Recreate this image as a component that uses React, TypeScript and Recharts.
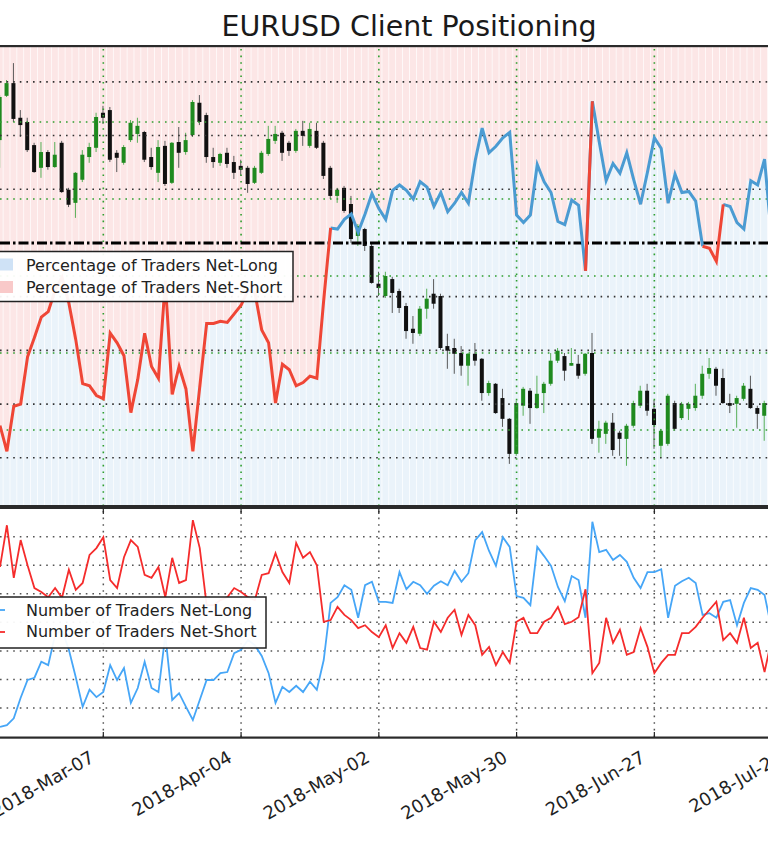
import React from 'react';
import { ComposedChart, Bar, Line, XAxis, YAxis, ReferenceLine } from 'recharts';

// trading-day index 0..112, ticks every 20 sessions
const tickIndex = [15, 35, 55, 75, 95, 115];
const tickLabels = ['2018-Mar-07', '2018-Apr-04', '2018-May-02', '2018-May-30', '2018-Jun-27', '2018-Jul-25'];

const priceTicks = [1.16, 1.18, 1.2, 1.22, 1.24];
const pctTicks = [30, 35, 40, 45, 55, 60, 65];
const countTicks = [30000, 35000, 40000, 45000, 50000, 55000, 60000];

// EURUSD daily candles
const open = [
  1.2353, 1.2468, 1.2501, 1.2411, 1.2400, 1.2340, 1.2281, 1.2322, 1.2283, 1.2346,
  1.2224, 1.2190, 1.2250, 1.2309, 1.2333, 1.2424, 1.2431, 1.2320, 1.2294, 1.2353,
  1.2369, 1.2374, 1.2309, 1.2268, 1.2338, 1.2242, 1.2348, 1.2322, 1.2366, 1.2450,
  1.2418, 1.2309, 1.2294, 1.2320, 1.2296, 1.2286, 1.2281, 1.2242, 1.2268, 1.2317,
  1.2351, 1.2372, 1.2346, 1.2325, 1.2377, 1.2338, 1.2377, 1.2346, 1.2281, 1.2208,
  1.2229, 1.2187, 1.2104, 1.2122, 1.2078, 1.1980, 1.1948, 1.1992, 1.1961, 1.1922,
  1.1863, 1.1850, 1.1915, 1.1954, 1.1948, 1.1818, 1.1813, 1.1800, 1.1767, 1.1798,
  1.1785, 1.1696, 1.1720, 1.1683, 1.1629, 1.1538, 1.1663, 1.1702, 1.1657, 1.1696,
  1.1720, 1.1780, 1.1792, 1.1767, 1.1772, 1.1746, 1.1800, 1.1580, 1.1590, 1.1619,
  1.1593, 1.1577, 1.1611, 1.1663, 1.1702, 1.1655, 1.1559, 1.1564, 1.1670, 1.1631,
  1.1655, 1.1657, 1.1689, 1.1746, 1.1759, 1.1735, 1.1670, 1.1668, 1.1681, 1.1707,
  1.1657, 1.1637,
];
const close = [
  1.2465, 1.2501, 1.2408, 1.2392, 1.2327, 1.2270, 1.2322, 1.2283, 1.2315, 1.2218,
  1.2185, 1.2268, 1.2315, 1.2335, 1.2413, 1.2411, 1.2302, 1.2307, 1.2335, 1.2398,
  1.2390, 1.2302, 1.2283, 1.2335, 1.2239, 1.2346, 1.2320, 1.2353, 1.2452, 1.2400,
  1.2309, 1.2296, 1.2317, 1.2291, 1.2268, 1.2276, 1.2239, 1.2281, 1.2320, 1.2356,
  1.2369, 1.2320, 1.2325, 1.2377, 1.2364, 1.2382, 1.2333, 1.2260, 1.2208, 1.2224,
  1.2169, 1.2096, 1.2130, 1.2078, 1.1982, 1.1969, 1.2000, 1.1956, 1.1917, 1.1857,
  1.1852, 1.1915, 1.1941, 1.1928, 1.1813, 1.1806, 1.1798, 1.1767, 1.1798, 1.1780,
  1.1696, 1.1722, 1.1644, 1.1629, 1.1538, 1.1670, 1.1707, 1.1657, 1.1694, 1.1720,
  1.1780, 1.1806, 1.1754, 1.1774, 1.1741, 1.1798, 1.1577, 1.1603, 1.1619, 1.1548,
  1.1577, 1.1611, 1.1670, 1.1702, 1.1650, 1.1613, 1.1598, 1.1689, 1.1603, 1.1668,
  1.1668, 1.1689, 1.1746, 1.1761, 1.1715, 1.1670, 1.1663, 1.1683, 1.1715, 1.1657,
  1.1642, 1.1670,
];
const high = [
  1.2470, 1.2509, 1.2553, 1.2431, 1.2411, 1.2346, 1.2348, 1.2327, 1.2348, 1.2351,
  1.2229, 1.2270, 1.2327, 1.2346, 1.2424, 1.2442, 1.2439, 1.2327, 1.2340, 1.2405,
  1.2411, 1.2377, 1.2333, 1.2353, 1.2351, 1.2348, 1.2387, 1.2372, 1.2457, 1.2470,
  1.2424, 1.2333, 1.2320, 1.2333, 1.2312, 1.2302, 1.2286, 1.2286, 1.2325, 1.2390,
  1.2390, 1.2377, 1.2351, 1.2382, 1.2403, 1.2398, 1.2398, 1.2351, 1.2286, 1.2229,
  1.2234, 1.2208, 1.2135, 1.2125, 1.2083, 1.2011, 1.2011, 1.1998, 1.1967, 1.1930,
  1.1896, 1.1922, 1.1967, 1.1992, 1.1954, 1.1850, 1.1837, 1.1818, 1.1800, 1.1826,
  1.1787, 1.1728, 1.1722, 1.1707, 1.1631, 1.1676, 1.1712, 1.1709, 1.1741, 1.1725,
  1.1800, 1.1813, 1.1800, 1.1813, 1.1795, 1.1800, 1.1852, 1.1624, 1.1624, 1.1644,
  1.1598, 1.1616, 1.1676, 1.1715, 1.1720, 1.1678, 1.1603, 1.1694, 1.1676, 1.1673,
  1.1673, 1.1720, 1.1767, 1.1787, 1.1764, 1.1759, 1.1694, 1.1689, 1.1722, 1.1741,
  1.1663, 1.1676,
];
const low = [
  1.2281, 1.2465, 1.2400, 1.2361, 1.2322, 1.2268, 1.2255, 1.2276, 1.2281, 1.2216,
  1.2179, 1.2151, 1.2244, 1.2294, 1.2322, 1.2395, 1.2296, 1.2270, 1.2289, 1.2348,
  1.2346, 1.2296, 1.2276, 1.2244, 1.2234, 1.2239, 1.2281, 1.2315, 1.2361, 1.2392,
  1.2294, 1.2281, 1.2286, 1.2281, 1.2252, 1.2260, 1.2216, 1.2239, 1.2265, 1.2312,
  1.2343, 1.2299, 1.2312, 1.2320, 1.2338, 1.2333, 1.2330, 1.2252, 1.2200, 1.2190,
  1.2164, 1.2086, 1.2078, 1.2065, 1.1980, 1.1948, 1.1943, 1.1904, 1.1904, 1.1837,
  1.1824, 1.1844, 1.1889, 1.1915, 1.1808, 1.1759, 1.1746, 1.1741, 1.1715, 1.1767,
  1.1676, 1.1689, 1.1642, 1.1608, 1.1512, 1.1533, 1.1637, 1.1616, 1.1655, 1.1644,
  1.1715, 1.1774, 1.1728, 1.1767, 1.1733, 1.1741, 1.1564, 1.1541, 1.1564, 1.1533,
  1.1533, 1.1507, 1.1606, 1.1657, 1.1637, 1.1551, 1.1528, 1.1559, 1.1598, 1.1626,
  1.1626, 1.1650, 1.1681, 1.1733, 1.1689, 1.1668, 1.1644, 1.1606, 1.1676, 1.1655,
  1.1603, 1.1572,
];

// % of traders net-long
const pctLong = [
  33.0, 30.6, 34.8, 35.0, 39.4, 41.2, 43.1, 43.6, 45.6, 46.8,
  44.4, 41.0, 36.9, 36.7, 35.8, 35.5, 41.6, 40.7, 39.5, 34.2,
  37.3, 41.6, 38.5, 37.4, 46.5, 35.9, 38.5, 36.4, 30.6, 36.6,
  42.5, 42.5, 42.7, 42.6, 43.4, 44.2, 45.6, 45.4, 41.9, 40.7,
  35.1, 38.7, 38.2, 36.7, 37.0, 37.6, 37.4, 44.7, 51.4, 51.3,
  52.2, 52.7, 51.0, 52.7, 54.6, 53.2, 52.2, 54.9, 55.4, 54.9,
  54.1, 55.7, 55.2, 53.4, 54.7, 52.9, 53.7, 54.7, 53.7, 57.7,
  60.7, 58.4, 59.0, 59.8, 60.3, 52.6, 51.9, 52.6, 57.3, 55.7,
  54.7, 52.0, 51.7, 54.0, 53.5, 47.4, 63.2, 59.4, 55.8, 57.4,
  56.5, 58.4, 55.9, 53.6, 56.6, 59.8, 58.8, 53.7, 56.4, 54.7,
  54.8, 53.9, 49.7, 49.5, 48.3, 53.6, 53.4, 51.9, 51.3, 55.8,
  55.4, 57.8, 50.5,
];

const tradersLong = [
  26700, 27000, 28200, 31800, 34900, 35300, 38100, 37500, 42800, 43700,
  40200, 35400, 30200, 33200, 31900, 32800, 37500, 34900, 37000, 30900,
  33500, 38100, 33500, 32800, 42800, 31400, 32600, 30200, 27900, 31400,
  34900, 34900, 36100, 36300, 39600, 40200, 41900, 41000, 39100, 36100,
  30900, 33700, 32800, 33900, 32800, 34600, 33200, 38400, 48400, 49400,
  51500, 50700, 45800, 51500, 52100, 48600, 48600, 48400, 53800, 50800,
  52100, 51500, 50000, 51400, 52200, 51500, 54000, 52100, 53600, 59400,
  60800, 57500, 54900, 59900, 58200, 49600, 49300, 48000, 58200, 56600,
  54900, 51200, 48700, 53100, 52400, 45800, 62600, 57300, 57700, 55900,
  56800, 55600, 52800, 51000, 53800, 53800, 54300, 45800, 51400, 52200,
  52800, 51900, 46300, 46600, 45800, 48600, 48900, 44500, 48400, 51000,
  50700, 49800, 44000,
];

const tradersShort = [
  54700, 62000, 52800, 59400, 55000, 51000, 50300, 49400, 51000, 49300,
  54200, 50700, 51900, 56800, 58000, 59900, 52400, 51000, 56400, 59400,
  58200, 53300, 52800, 54700, 49400, 56300, 51900, 52400, 62900, 58000,
  48000, 48000, 48900, 49400, 51000, 50300, 49400, 48900, 53300, 53600,
  57100, 53800, 51900, 58900, 56300, 57300, 55000, 45100, 45400, 47700,
  46300, 45400, 44000, 44500, 43300, 42400, 44500, 40500, 43100, 41400,
  44200, 40500, 40200, 45100, 43300, 45800, 47200, 42800, 46300, 44500,
  39300, 40700, 37500, 39800, 37900, 45100, 45800, 43100, 43100, 45100,
  45800, 47700, 44700, 45100, 45900, 50800, 36100, 37900, 45800, 41400,
  43700, 39300, 39800, 44000, 40700, 36100, 37900, 39300, 39300, 43100,
  43100, 44200, 45800, 47200, 48600, 41900, 43100, 41400, 45800, 40500,
  41400, 36300, 41900,
];

const W = 768;
const X_DOMAIN: [number, number] = [0, 111.5];
const PCT_DOMAIN: [number, number] = [25.51, 68.34];
const PRICE_DOMAIN: [number, number] = [1.14026, 1.25974];
const COUNT_DOMAIN: [number, number] = [24922, 64845];
const STEP = W / (X_DOMAIN[1] - X_DOMAIN[0]);
const BOTTOM_PLOT_H = 228;

const GREEN = '#2f9e2f';
const DOTS = '1.6 5';

const rows = pctLong.map((pct, i) => {
  const prev = i > 0 ? pctLong[i - 1] : pct;
  return {
    i,
    pct,
    longPct: pct >= 50 || prev >= 50 ? pct : null,
    shortPct: pct < 50 || prev < 50 ? pct : null,
    open: open[i],
    high: high[i],
    low: low[i],
    close: close[i],
    nLong: tradersLong[i],
    nShort: tradersShort[i],
  };
});

const visibleTicks = tickIndex.filter((t) => t >= X_DOMAIN[0] && t <= X_DOMAIN[1]);

const Candle = (props: any) => {
  const { x, y, width, height, payload } = props;
  if (!payload || payload.open == null) return null;
  const top = Math.min(y, y + height);
  const h = Math.abs(height);
  const ratio = h / (payload.high - payload.low);
  const yAt = (v: number) => top + (payload.high - v) * ratio;
  const up = payload.close >= payload.open;
  const cx = x + width / 2;
  const bodyTop = yAt(Math.max(payload.open, payload.close));
  const bodyH = Math.max(1, Math.abs(yAt(payload.open) - yAt(payload.close)));
  return (
    <g>
      <line x1={cx} x2={cx} y1={top} y2={top + h} stroke={up ? '#58b058' : '#5a5a5a'} strokeWidth={1} />
      <rect x={cx - 2} y={bodyTop} width={4} height={bodyH} fill={up ? '#1f8a1f' : '#111'} />
    </g>
  );
};

const DateTick = (props: any) => {
  const { x, y, payload } = props;
  const label = tickLabels[tickIndex.indexOf(payload.value)];
  const ax = x - 8;
  const ay = y + 24;
  const inside = x >= 0 && x <= W;
  return (
    <g>
      {inside && <line x1={x} x2={x} y1={y - 5} y2={y} stroke="#222" strokeWidth={1.2} />}
      {inside && (
        <line x1={x} x2={x} y1={y - BOTTOM_PLOT_H} y2={y - BOTTOM_PLOT_H + 5} stroke="#222" strokeWidth={1.2} />
      )}
      <text
        x={ax}
        y={ay}
        textAnchor="end"
        transform={`rotate(-30 ${ax} ${ay})`}
        fontSize={18}
        fill="#222"
        fontFamily="DejaVu Sans, sans-serif"
      >
        {label}
      </text>
    </g>
  );
};

const App = () => {
  return (
    <div
      style={{
        position: 'fixed',
        left: 0,
        top: 0,
        width: W,
        height: 844,
        overflow: 'hidden',
        background: '#fff',
        fontFamily: 'DejaVu Sans, sans-serif',
      }}
    >
      {/* positioning + price panel */}
      <div style={{ position: 'absolute', left: 0, top: 46 }}>
        <ComposedChart width={W} height={460} data={rows} margin={{ top: 0, right: 0, bottom: 0, left: 0 }}>
          <XAxis xAxisId="bg" type="number" dataKey="i" domain={X_DOMAIN} allowDataOverflow hide />
          <XAxis xAxisId="c" type="number" dataKey="i" domain={X_DOMAIN} allowDataOverflow hide />
          <YAxis yAxisId="pct" domain={PCT_DOMAIN} allowDataOverflow hide />
          <YAxis yAxisId="price" domain={PRICE_DOMAIN} allowDataOverflow hide />

          <Bar xAxisId="bg" yAxisId="pct" stackId="bg" dataKey={(r: any) => r.pct} fill="#eaf3fa" barSize={STEP} isAnimationActive={false} />
          <Bar xAxisId="bg" yAxisId="pct" stackId="bg" dataKey={(r: any) => 100 - r.pct} fill="#fce6e6" barSize={STEP} isAnimationActive={false} />

          {pctTicks.map((t) => (
            <ReferenceLine key={`p${t}`} xAxisId="c" yAxisId="pct" y={t} stroke="#333" strokeWidth={1.6} strokeDasharray={DOTS} />
          ))}
          {priceTicks.map((t) => (
            <ReferenceLine key={`q${t}`} xAxisId="c" yAxisId="price" y={t} stroke={GREEN} strokeWidth={1.6} strokeDasharray={DOTS} />
          ))}
          {visibleTicks.map((t) => (
            <ReferenceLine key={`v${t}`} xAxisId="c" yAxisId="pct" x={t} stroke={GREEN} strokeWidth={1.6} strokeDasharray={DOTS} />
          ))}

          <Bar
            xAxisId="c"
            yAxisId="price"
            dataKey={(r: any) => (r.open == null ? null : [r.low, r.high])}
            barSize={STEP}
            shape={Candle}
            isAnimationActive={false}
          />

          <ReferenceLine xAxisId="c" yAxisId="pct" y={50} stroke="#000" strokeWidth={3} strokeDasharray="10 3 2.5 3" />

          <Line xAxisId="c" yAxisId="pct" dataKey="longPct" stroke="#4b9bd2" strokeWidth={3} dot={false} activeDot={false} connectNulls={false} isAnimationActive={false} />
          <Line xAxisId="c" yAxisId="pct" dataKey="shortPct" stroke="#ef4636" strokeWidth={3} dot={false} activeDot={false} connectNulls={false} isAnimationActive={false} />
        </ComposedChart>
      </div>

      {/* trader counts panel */}
      <div style={{ position: 'absolute', left: 0, top: 509 }}>
        <ComposedChart width={W} height={335} data={rows} margin={{ top: 0, right: 0, bottom: 0, left: 0 }}>
          <XAxis
            type="number"
            dataKey="i"
            domain={X_DOMAIN}
            allowDataOverflow
            ticks={tickIndex}
            interval={0}
            tick={(p: any) => <DateTick {...p} />}
            tickLine={false}
            axisLine={false}
            tickSize={0}
            tickMargin={0}
            height={107}
          />
          <YAxis domain={COUNT_DOMAIN} allowDataOverflow hide />
          {countTicks.map((t) => (
            <ReferenceLine key={`c${t}`} y={t} stroke="#555" strokeWidth={1.5} strokeDasharray={DOTS} />
          ))}
          {visibleTicks.map((t) => (
            <ReferenceLine key={`w${t}`} x={t} stroke="#555" strokeWidth={1.5} strokeDasharray={DOTS} />
          ))}
          <Line dataKey="nLong" stroke="#46a6f7" strokeWidth={1.8} dot={false} activeDot={false} isAnimationActive={false} />
          <Line dataKey="nShort" stroke="#f52c2c" strokeWidth={1.8} dot={false} activeDot={false} isAnimationActive={false} />
        </ComposedChart>
      </div>

      {/* title, frames, legends */}
      <svg width={W} height={844} style={{ position: 'absolute', left: 0, top: 0, pointerEvents: 'none' }}>
        <text x={409} y={36} textAnchor="middle" fontSize={28.5} fill="#1a1a1a" fontFamily="DejaVu Sans, sans-serif">
          EURUSD Client Positioning
        </text>

        <rect x={0} y={45} width={W} height={2.2} fill="#2a2a2a" />
        <rect x={0} y={505} width={W} height={4} fill="#2a2a2a" />
        <rect x={0} y={736.5} width={W} height={2.2} fill="#2a2a2a" />

        <g fontFamily="DejaVu Sans, sans-serif" fontSize={16} fill="#222">
          <rect x={-10} y={251.5} width={303} height={50} fill="#ffffff" fillOpacity={0.94} stroke="#222" strokeWidth={1.5} />
          <rect x={-19} y={258.5} width={32} height={12} fill="#cfe2f6" />
          <rect x={-19} y={281} width={32} height={12} fill="#f9c9c9" />
          <text x={26} y={271}>Percentage of Traders Net-Long</text>
          <text x={26} y={293}>Percentage of Traders Net-Short</text>

          <rect x={-10} y={597} width={276} height={51} fill="#ffffff" fillOpacity={0.94} stroke="#222" strokeWidth={1.5} />
          <line x1={-27} x2={5} y1={610} y2={610} stroke="#46a6f7" strokeWidth={1.8} />
          <line x1={-27} x2={5} y1={632} y2={632} stroke="#f52c2c" strokeWidth={1.8} />
          <text x={26} y={615.5}>Number of Traders Net-Long</text>
          <text x={26} y={637}>Number of Traders Net-Short</text>
        </g>
      </svg>
    </div>
  );
};

export default App;
